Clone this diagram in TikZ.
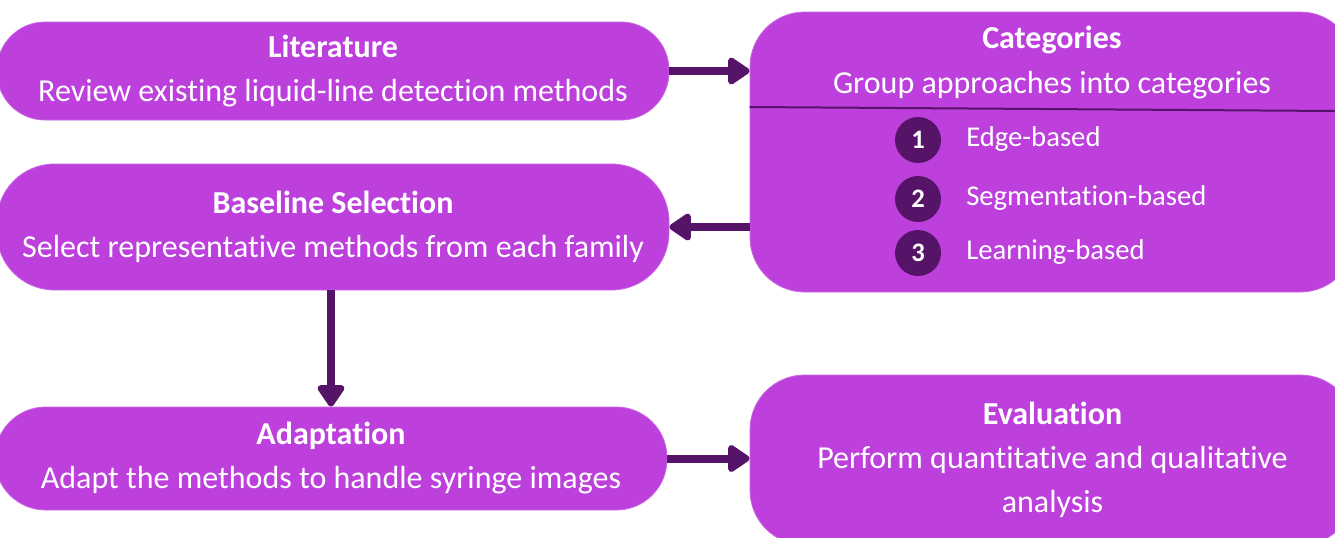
\documentclass[tikz,border=0pt]{standalone}
\usepackage{fontspec}
\setmainfont{Carlito}[RawFeature={-liga;-clig;-dlig;-calt;-hlig}]
\usetikzlibrary{arrows.meta,calc}
\definecolor{boxfill}{RGB}{189,64,221}
\definecolor{deep}{RGB}{86,20,104}
\begin{document}
\begin{tikzpicture}[x=0.75pt,y=-0.75pt,
  stage/.style={fill=boxfill, draw=boxfill!80!white, line width=0.6pt,
    rounded corners=#1, inner sep=0pt, text=white, align=center,
    font=\fontsize{24}{33}\selectfont},
  stage/.default=41pt,
  flow/.style={draw=deep, line width=6pt, -{Triangle[length=18pt,width=23pt,round]}},
  badge/.style={circle, fill=deep, minimum size=34.5pt, inner sep=0pt,
    text=white, font=\fontsize{20}{20}\selectfont\bfseries},
  item/.style={anchor=west, inner sep=0pt, text=white, font=\fontsize{21.5}{26}\selectfont}]
\useasboundingbox (0,0) rectangle (1335,537);

% left column
\node[stage=36pt, minimum width=504pt, minimum height=73.5pt] (lit) at (333,71)
  {\textbf{Literature}\\Review existing liquid-line detection methods};
\node[stage=43pt, minimum width=504pt, minimum height=94.5pt] (base) at (333,227)
  {\textbf{Baseline Selection}\\Select representative methods from each family};
\node[stage=38pt, minimum width=504pt, minimum height=77.25pt] (adapt) at (331,458.5)
  {\textbf{Adaptation}\\Adapt the methods to handle syringe images};

% right column
\node[stage, minimum width=453.75pt, minimum height=210pt] (cat) at (1052.5,152) {};
\node[stage, minimum width=453.75pt, minimum height=127.5pt] (eval) at (1052.5,460)
  {\textbf{Evaluation}\\Perform quantitative and qualitative\\analysis};

% contents of the categories box
\node[text=white, align=center, inner sep=0pt, font=\fontsize{24}{34}\selectfont] (cathead) at (1052,62.5)
  {\textbf{Categories}\\Group approaches into categories};
\draw[deep, line width=1.5pt] (cat.west |- 0,107) -- (1335,111);
\node[badge] (b1) at (918,140) {1};
\node[badge] (b2) at (918,199) {2};
\node[badge] (b3) at (918,253) {3};
\node[item] (i1) at (966,139) {Edge-based};
\node[item] (i2) at (966,198) {Segmentation-based};
\node[item] (i3) at (966,252) {Learning-based};

% connectors
\draw[flow] (lit.east) -- (lit.east -| cat.west);
\draw[flow] (cat.west |- base.east) -- (base.east);
\draw[flow] (base.south -| adapt.north) -- (adapt.north);
\draw[flow] (adapt.east) -- (adapt.east -| eval.west);
\end{tikzpicture}
\end{document}
